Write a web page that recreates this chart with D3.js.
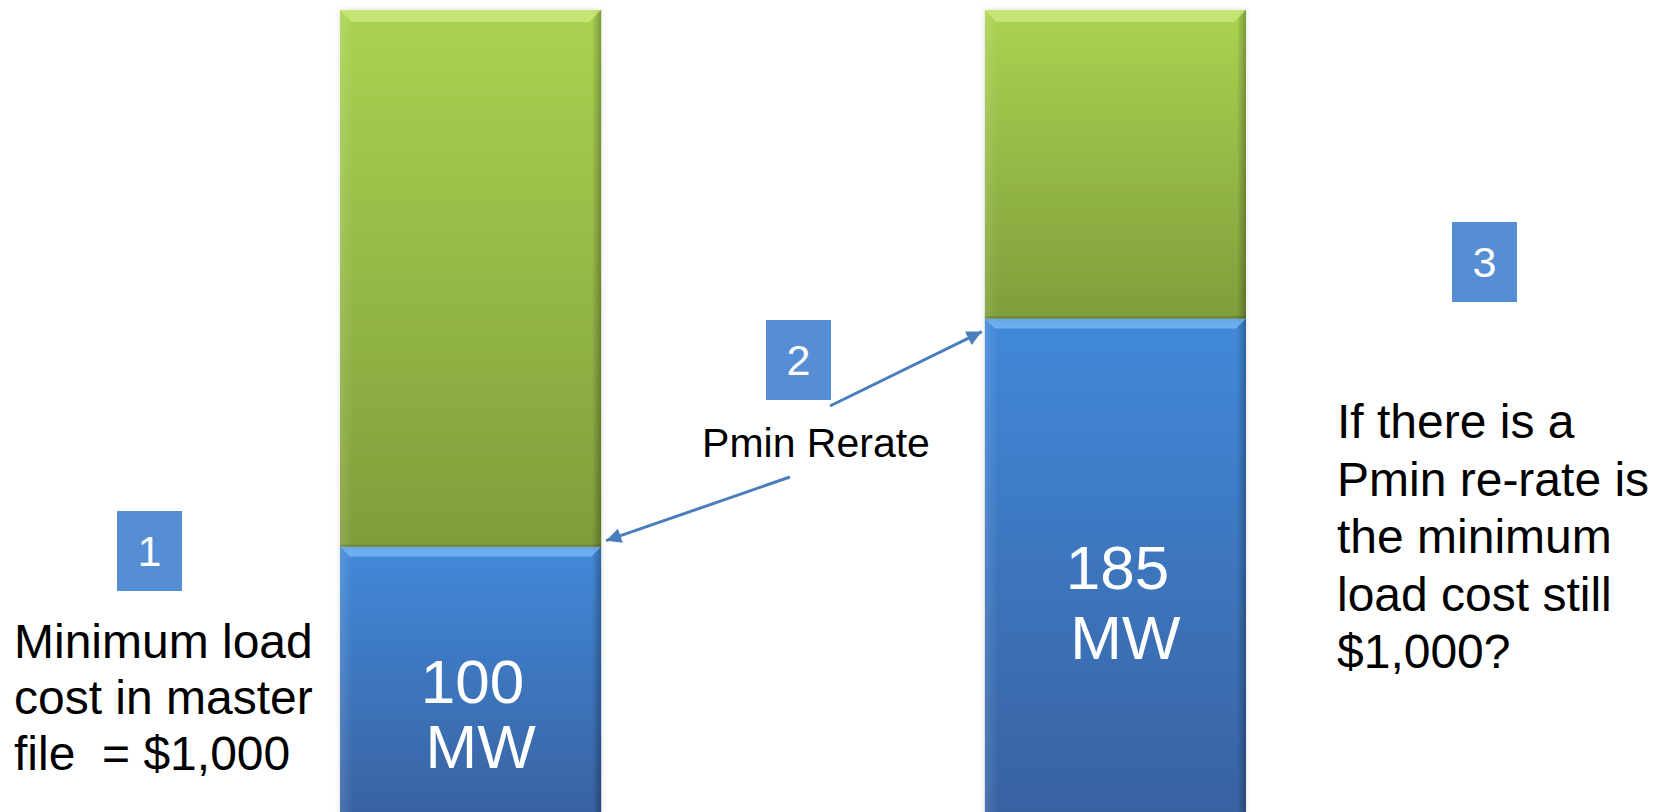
<!DOCTYPE html>
<html>
<head>
<meta charset="utf-8">
<script src="https://cdn.jsdelivr.net/npm/d3@7"></script>
<style>
  html, body { margin: 0; padding: 0; background: #fff; }
  svg { display: block; font-family: "Liberation Sans", Arial, sans-serif; }
</style>
</head>
<body>
<svg id="graph" width="1658" height="812"></svg>
<script>
// units before / after the Pmin re-rate
var units = ["before", "after"];
var pminMW = [100, 185];
var capacityMW = [300, 300];
var pminLabels = ["100", "185"];
var steps = ["1", "2", "3"];
var notes = [
    ["Minimum load", "cost in master", "file  = $1,000"],
    ["Pmin Rerate"],
    ["If there is a", "Pmin re-rate is", "the minimum", "load cost still", "$1,000?"]
];

(function() {
    var svg = d3.select("#graph");

    var rows = units.map((u, i) => ({ unit: u, pmin: pminMW[i], upper: capacityMW[i] - pminMW[i] }));
    var series = d3.stack().keys(["pmin", "upper"])(rows);

    var x = d3.scaleBand()
        .domain(units)
        .range([340, 1246])
        .paddingInner(0.595)
        .paddingOuter(0);

    var y = d3.scaleLinear()
        .domain([0, 300])
        .range([815, 10]);

    var defs = svg.append("defs");

    var grads = {
        pmin: ["#4189d9", "#3862a2"],
        upper: ["#aad352", "#7f9e3b"]
    };
    Object.keys(grads).forEach(k => {
        var g = defs.append("linearGradient").attr("id", "g-" + k)
            .attr("x1", 0).attr("y1", 0).attr("x2", 0).attr("y2", 1);
        g.append("stop").attr("offset", 0).attr("stop-color", grads[k][0]);
        g.append("stop").attr("offset", 1).attr("stop-color", grads[k][1]);
    });
    var side = defs.append("linearGradient").attr("id", "g-side")
        .attr("x1", 0).attr("y1", 0).attr("x2", 1).attr("y2", 0);
    side.append("stop").attr("offset", 0).attr("stop-color", "#fff").attr("stop-opacity", 0.12);
    side.append("stop").attr("offset", 0.05).attr("stop-color", "#fff").attr("stop-opacity", 0);
    side.append("stop").attr("offset", 0.965).attr("stop-color", "#000").attr("stop-opacity", 0);
    side.append("stop").attr("offset", 1).attr("stop-color", "#000").attr("stop-opacity", 0.28);

    var shadow = defs.append("filter").attr("id", "shadow")
        .attr("x", "-10%").attr("y", "-10%").attr("width", "120%").attr("height", "120%");
    shadow.append("feDropShadow").attr("dx", 0).attr("dy", 0)
        .attr("stdDeviation", 3).attr("flood-color", "#000").attr("flood-opacity", 0.12);

    var marker = defs.append("marker").attr("id", "head")
        .attr("viewBox", "0 0 10 10").attr("refX", 10).attr("refY", 5)
        .attr("markerWidth", 6).attr("markerHeight", 5).attr("markerUnits", "strokeWidth")
        .attr("orient", "auto");
    marker.append("path").attr("d", "M0,0L10,5L0,10z").attr("fill", "#4a7ebb");

    var bevelTop = { pmin: "#78b8f4", upper: "#cde87a" };
    var bev = { pmin: 10, upper: 12 };

    var layer = svg.append("g").selectAll("g")
        .data(series)
        .join("g");

    var seg = layer.selectAll("g")
        .data(s => s.map(d => Object.assign(d, { key: s.key })))
        .join("g")
        .attr("filter", "url(#shadow)");

    seg.append("rect")
        .attr("x", d => x(d.data.unit))
        .attr("y", d => y(d[1]))
        .attr("width", x.bandwidth())
        .attr("height", d => y(d[0]) - y(d[1]))
        .attr("fill", d => "url(#g-" + d.key + ")");

    seg.append("rect")
        .attr("x", d => x(d.data.unit))
        .attr("y", d => y(d[1]))
        .attr("width", x.bandwidth())
        .attr("height", d => y(d[0]) - y(d[1]))
        .attr("fill", "url(#g-side)");

    seg.append("path")
        .attr("d", d => {
            var x0 = x(d.data.unit), x1 = x0 + x.bandwidth(), t = y(d[1]), b = bev[d.key];
            return `M${x0},${t}L${x1},${t}L${x1 - b},${t + b}L${x0 + b},${t + b}Z`;
        })
        .attr("fill", d => bevelTop[d.key])
        .attr("opacity", 0.8);

    seg.append("line")
        .attr("x1", d => x(d.data.unit))
        .attr("x2", d => x(d.data.unit) + x.bandwidth())
        .attr("y1", d => y(d[0]) - 1)
        .attr("y2", d => y(d[0]) - 1)
        .attr("stroke", "#000")
        .attr("stroke-opacity", 0.18)
        .attr("stroke-width", 2);

    // MW labels inside the blue part
    var lab = svg.append("g").attr("fill", "#fff").attr("font-size", 62)
        .attr("text-anchor", "middle");
    var labY = [703, 589];
    units.forEach((u, i) => {
        var cx = x(u) + x.bandwidth() / 2 + 2;
        lab.append("text").attr("x", cx).attr("y", labY[i]).text(pminLabels[i]);
        lab.append("text").attr("x", cx + 8).attr("y", labY[i] + (i ? 70 : 65)).text("MW");
    });

    // numbered step boxes
    var boxes = [[117, 511], [766, 320], [1452, 222]];
    var sb = svg.append("g");
    steps.forEach((s, i) => {
        sb.append("rect").attr("x", boxes[i][0]).attr("y", boxes[i][1])
            .attr("width", 65).attr("height", 80).attr("fill", "#558ed5");
        sb.append("text").attr("x", boxes[i][0] + 32.5).attr("y", boxes[i][1] + 55)
            .attr("text-anchor", "middle").attr("font-size", 43).attr("fill", "#fff").text(s);
    });

    // notes
    var nt = svg.append("g").attr("fill", "#000");
    var noteAt = [[14, 658, 48, 56, "start"], [816, 457, 41, 0, "middle"], [1337, 438, 48, 57.5, "start"]];
    notes.forEach((lines, i) => {
        var p = noteAt[i];
        var t = nt.append("text").attr("font-size", p[2]).attr("text-anchor", p[4])
            .attr("style", "white-space: pre");
        lines.forEach((l, j) => t.append("tspan").attr("x", p[0]).attr("y", p[1] + j * p[3]).text(l));
    });

    // arrows from the Pmin Rerate label to each Pmin level
    var arrows = [
        { from: [790, 477], to: [x(units[0]) + x.bandwidth() + 5, y(pminMW[0]) - 6] },
        { from: [830, 406], to: [x(units[1]) - 3, y(pminMW[1]) + 13] }
    ];
    svg.append("g").selectAll("line")
        .data(arrows)
        .join("line")
        .attr("x1", d => d.from[0]).attr("y1", d => d.from[1])
        .attr("x2", d => d.to[0]).attr("y2", d => d.to[1])
        .attr("stroke", "#4a7ebb")
        .attr("stroke-width", 3)
        .attr("marker-end", "url(#head)");
})();
</script>
</body>
</html>
